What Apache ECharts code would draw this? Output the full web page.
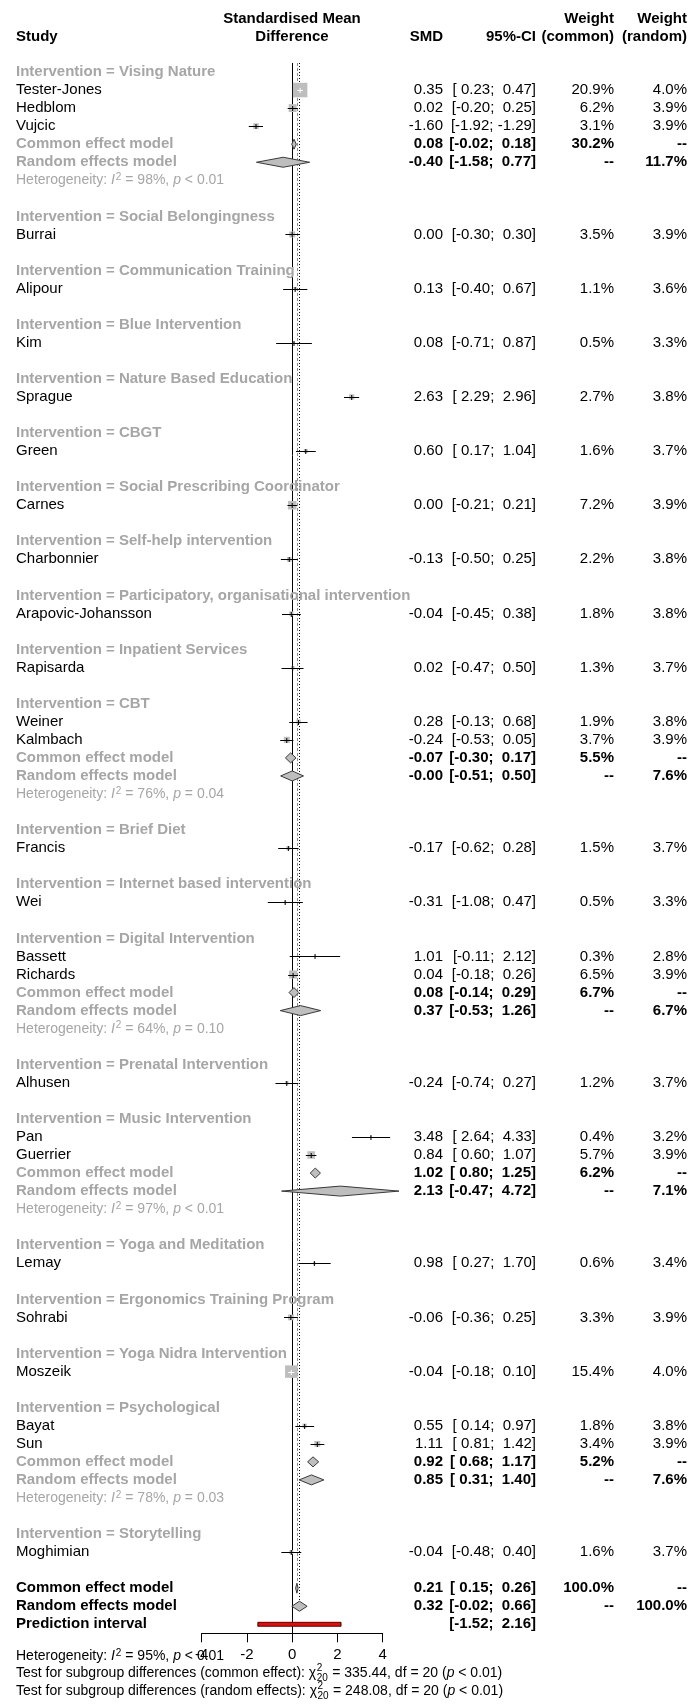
<!DOCTYPE html>
<html>
<head>
<meta charset="utf-8">
<script src="https://cdn.jsdelivr.net/npm/echarts@6/dist/echarts.min.js"></script>
<style>
html, body { margin: 0; padding: 0; background: #ffffff; }
#chart { width: 690px; height: 1707px; }
</style>
</head>
<body>
<div id="chart"></div>
<script>
// ---- Subgroups (intervention types) ----
const groups = [
  'Vising Nature', 'Social Belongingness', 'Communication Training', 'Blue Intervention',
  'Nature Based Education', 'CBGT', 'Social Prescribing Coordinator', 'Self-help intervention',
  'Participatory, organisational intervention', 'Inpatient Services', 'CBT', 'Brief Diet',
  'Internet based intervention', 'Digital Intervention', 'Prenatal Intervention', 'Music Intervention',
  'Yoga and Meditation', 'Ergonomics Training Program', 'Yoga Nidra Intervention', 'Psychological',
  'Storytelling'
];

// ---- Individual studies ----
const studyNames = [
  'Tester-Jones', 'Hedblom', 'Vujcic', 'Burrai', 'Alipour', 'Kim', 'Sprague', 'Green', 'Carnes',
  'Charbonnier', 'Arapovic-Johansson', 'Rapisarda', 'Weiner', 'Kalmbach', 'Francis', 'Wei',
  'Bassett', 'Richards', 'Alhusen', 'Pan', 'Guerrier', 'Lemay', 'Sohrabi', 'Moszeik', 'Bayat',
  'Sun', 'Moghimian'
];
const studyGroup = [0, 0, 0, 1, 2, 3, 4, 5, 6, 7, 8, 9, 10, 10, 11, 12, 13, 13, 14, 15, 15, 16, 17, 18, 19, 19, 20];
const smd    = [0.35, 0.02, -1.60, 0.00, 0.13, 0.08, 2.63, 0.60, 0.00, -0.13, -0.04, 0.02, 0.28, -0.24, -0.17, -0.31, 1.01, 0.04, -0.24, 3.48, 0.84, 0.98, -0.06, -0.04, 0.55, 1.11, -0.04];
const ciLow  = [0.23, -0.20, -1.92, -0.30, -0.40, -0.71, 2.29, 0.17, -0.21, -0.50, -0.45, -0.47, -0.13, -0.53, -0.62, -1.08, -0.11, -0.18, -0.74, 2.64, 0.60, 0.27, -0.36, -0.18, 0.14, 0.81, -0.48];
const ciHigh = [0.47, 0.25, -1.29, 0.30, 0.67, 0.87, 2.96, 1.04, 0.21, 0.25, 0.38, 0.50, 0.68, 0.05, 0.28, 0.47, 2.12, 0.26, 0.27, 4.33, 1.07, 1.70, 0.25, 0.10, 0.97, 1.42, 0.40];
const wCommon = [20.9, 6.2, 3.1, 3.5, 1.1, 0.5, 2.7, 1.6, 7.2, 2.2, 1.8, 1.3, 1.9, 3.7, 1.5, 0.5, 0.3, 6.5, 1.2, 0.4, 5.7, 0.6, 3.3, 15.4, 1.8, 3.4, 1.6];
const wRandom = [4.0, 3.9, 3.9, 3.9, 3.6, 3.3, 3.8, 3.7, 3.9, 3.8, 3.8, 3.7, 3.8, 3.9, 3.7, 3.3, 2.8, 3.9, 3.7, 3.2, 3.9, 3.4, 3.9, 4.0, 3.8, 3.9, 3.7];

// ---- Pooled estimates within subgroups having more than one study ----
const subGroups     = [0, 10, 13, 15, 19];
const subCommonEst  = [0.08, -0.07, 0.08, 1.02, 0.92];
const subCommonLow  = [-0.02, -0.30, -0.14, 0.80, 0.68];
const subCommonHigh = [0.18, 0.17, 0.29, 1.25, 1.17];
const subCommonW    = [30.2, 5.5, 6.7, 6.2, 5.2];
const subRandomEst  = [-0.40, -0.00, 0.37, 2.13, 0.85];
const subRandomLow  = [-1.58, -0.51, -0.53, -0.47, 0.31];
const subRandomHigh = [0.77, 0.50, 1.26, 4.72, 1.40];
const subRandomW    = [11.7, 7.6, 6.7, 7.1, 7.6];
const subI2 = [98, 76, 64, 97, 78];
const subP  = ['< 0.01', '= 0.04', '= 0.10', '< 0.01', '= 0.03'];

// ---- Overall results ----
const overallCommon = [0.21, 0.15, 0.26];
const overallRandom = [0.32, -0.02, 0.66];
const predictionInterval = [-1.52, 2.16];
const overallI2 = 95;
const overallP = '< 0.01';
const testLabels = ['common effect', 'random effects'];
const testChi2 = [335.44, 248.08];
const testDf = [20, 20];
const testP = ['< 0.01', '< 0.01'];

// ---- Axis ----
const xTickValues = [-4, -2, 0, 2, 4];

// ---------------------------------------------------------------
const FONT = '"Liberation Sans", Arial, Helvetica, sans-serif';
const GRAY = '#a6a6a6';
const COL = { name: 16, smd: 443, ci: 536, wc: 614, wr: 687 };

function f2(v) {
  const neg = v < 0 || Object.is(v, -0);
  return (neg ? '-' : '') + Math.abs(v).toFixed(2);
}
function padCI(v) {
  const s = f2(v);
  return s[0] === '-' ? s : ' ' + s;
}
function ci(lo, hi) { return '[' + padCI(lo) + '; ' + padCI(hi) + ']'; }
function pct(w) { return w == null ? '--' : w.toFixed(1) + '%'; }

// Row layout: one row per line of the table
const layout = [];
const studyRow = [];
const subRows = [];
let row = 1;
groups.forEach((g, gi) => {
  layout.push({ row: row++, kind: 'title', text: 'Intervention = ' + g });
  studyGroup.forEach((sg, si) => {
    if (sg === gi) { studyRow[si] = row; layout.push({ row: row++, kind: 'study', i: si }); }
  });
  const k = subGroups.indexOf(gi);
  if (k >= 0) {
    subRows[k] = row;
    layout.push({ row: row++, kind: 'subCommon', k });
    layout.push({ row: row++, kind: 'subRandom', k });
    layout.push({ row: row++, kind: 'subHet', k });
  }
  row++;
});
const overallRow = row;
layout.push({ row: overallRow, kind: 'allCommon' });
layout.push({ row: overallRow + 1, kind: 'allRandom' });
layout.push({ row: overallRow + 2, kind: 'pred' });

const Y_MAX = overallRow + 2.5;

function tx(text, x, y, o) {
  o = o || {};
  const style = {
    text: text,
    fill: o.fill || '#000',
    fontSize: o.size || 15,
    fontWeight: o.bold ? 'bold' : 'normal',
    fontStyle: o.italic ? 'italic' : 'normal',
    fontFamily: FONT,
    align: o.align || 'left',
    verticalAlign: o.va || 'middle'
  };
  if (o.rich) style.rich = o.rich;
  return { type: 'text', x: x, y: y, silent: true, style: style };
}

function hetRich(color) {
  return {
    n: { fontSize: 14, fill: color, fontFamily: FONT },
    i: { fontSize: 14, fill: color, fontFamily: FONT, fontStyle: 'italic' },
    s: { fontSize: 10, fill: color, fontFamily: FONT, verticalAlign: 'top', padding: [0, 0, 6, 1] }
  };
}
function hetText(i2, p) {
  return '{n|Heterogeneity: }{i|I}{s|2}{n| = ' + i2 + '%, }{i|p}{n| ' + p + '}';
}

function renderTable(params, api) {
  const L = layout[params.dataIndex];
  const y = api.coord([0, L.row])[1];
  const c = [];
  if (L.kind === 'title') {
    c.push(tx(L.text, COL.name, y, { bold: true, fill: GRAY }));
  } else if (L.kind === 'study') {
    const i = L.i;
    c.push(tx(studyNames[i], COL.name, y));
    c.push(tx(f2(smd[i]), COL.smd, y, { align: 'right' }));
    c.push(tx(ci(ciLow[i], ciHigh[i]), COL.ci, y, { align: 'right' }));
    c.push(tx(pct(wCommon[i]), COL.wc, y, { align: 'right' }));
    c.push(tx(pct(wRandom[i]), COL.wr, y, { align: 'right' }));
  } else if (L.kind === 'subCommon') {
    const k = L.k;
    c.push(tx('Common effect model', COL.name, y, { bold: true, fill: GRAY }));
    c.push(tx(f2(subCommonEst[k]), COL.smd, y, { align: 'right', bold: true }));
    c.push(tx(ci(subCommonLow[k], subCommonHigh[k]), COL.ci, y, { align: 'right', bold: true }));
    c.push(tx(pct(subCommonW[k]), COL.wc, y, { align: 'right', bold: true }));
    c.push(tx('--', COL.wr, y, { align: 'right', bold: true }));
  } else if (L.kind === 'subRandom') {
    const k = L.k;
    c.push(tx('Random effects model', COL.name, y, { bold: true, fill: GRAY }));
    c.push(tx(f2(subRandomEst[k]), COL.smd, y, { align: 'right', bold: true }));
    c.push(tx(ci(subRandomLow[k], subRandomHigh[k]), COL.ci, y, { align: 'right', bold: true }));
    c.push(tx('--', COL.wc, y, { align: 'right', bold: true }));
    c.push(tx(pct(subRandomW[k]), COL.wr, y, { align: 'right', bold: true }));
  } else if (L.kind === 'subHet') {
    c.push(tx(hetText(subI2[L.k], subP[L.k]), COL.name, y, { size: 14, fill: GRAY, rich: hetRich(GRAY) }));
  } else if (L.kind === 'allCommon') {
    c.push(tx('Common effect model', COL.name, y, { bold: true }));
    c.push(tx(f2(overallCommon[0]), COL.smd, y, { align: 'right', bold: true }));
    c.push(tx(ci(overallCommon[1], overallCommon[2]), COL.ci, y, { align: 'right', bold: true }));
    c.push(tx('100.0%', COL.wc, y, { align: 'right', bold: true }));
    c.push(tx('--', COL.wr, y, { align: 'right', bold: true }));
  } else if (L.kind === 'allRandom') {
    c.push(tx('Random effects model', COL.name, y, { bold: true }));
    c.push(tx(f2(overallRandom[0]), COL.smd, y, { align: 'right', bold: true }));
    c.push(tx(ci(overallRandom[1], overallRandom[2]), COL.ci, y, { align: 'right', bold: true }));
    c.push(tx('--', COL.wc, y, { align: 'right', bold: true }));
    c.push(tx('100.0%', COL.wr, y, { align: 'right', bold: true }));
  } else if (L.kind === 'pred') {
    c.push(tx('Prediction interval', COL.name, y, { bold: true }));
    c.push(tx(ci(predictionInterval[0], predictionInterval[1]), COL.ci, y, { align: 'right', bold: true }));
  }
  return { type: 'group', children: c };
}

// Study squares (size from common-effect weight) with CI whiskers
const maxW = Math.max.apply(null, wCommon);
const studyData = studyNames.map((n, i) => [smd[i], studyRow[i], ciLow[i], ciHigh[i], wCommon[i]]);
function renderStudy(params, api) {
  const r = api.value(1);
  const p = api.coord([api.value(0), r]);
  const lo = api.coord([api.value(2), r]);
  const hi = api.coord([api.value(3), r]);
  const s = 14.5 * Math.sqrt(api.value(4) / maxW);
  const inside = lo[0] >= p[0] - s / 2 && hi[0] <= p[0] + s / 2;
  const lc = inside ? '#ffffff' : '#000000';
  const yy = Math.round(p[1]) + 0.5;
  return {
    type: 'group',
    children: [
      { type: 'rect', shape: { x: p[0] - s / 2, y: p[1] - s / 2, width: s, height: s }, style: { fill: '#bebebe' } },
      { type: 'line', shape: { x1: lo[0], y1: yy, x2: hi[0], y2: yy }, style: { stroke: lc, lineWidth: 1 } },
      { type: 'line', shape: { x1: p[0], y1: yy - 2.5, x2: p[0], y2: yy + 2.5 }, style: { stroke: lc, lineWidth: 1 } }
    ]
  };
}

// Pooled estimates as diamonds
const diamondData = [];
subGroups.forEach((g, k) => {
  diamondData.push([subCommonEst[k], subRows[k], subCommonLow[k], subCommonHigh[k]]);
  diamondData.push([subRandomEst[k], subRows[k] + 1, subRandomLow[k], subRandomHigh[k]]);
});
diamondData.push([overallCommon[0], overallRow, overallCommon[1], overallCommon[2]]);
diamondData.push([overallRandom[0], overallRow + 1, overallRandom[1], overallRandom[2]]);
function renderDiamond(params, api) {
  const r = api.value(1);
  const p = api.coord([api.value(0), r]);
  const lo = api.coord([api.value(2), r]);
  const hi = api.coord([api.value(3), r]);
  const h = 5;
  return {
    type: 'polygon',
    shape: { points: [[lo[0], p[1]], [p[0], p[1] - h], [hi[0], p[1]], [p[0], p[1] + h]] },
    style: { fill: '#bebebe', stroke: '#3a3a3a', lineWidth: 1 }
  };
}

// Prediction interval bar
function renderPred(params, api) {
  const r = api.value(1);
  const lo = api.coord([api.value(0), r]);
  const hi = api.coord([api.value(2), r]);
  return {
    type: 'rect',
    shape: { x: lo[0], y: lo[1] - 2, width: hi[0] - lo[0], height: 4 },
    style: { fill: '#ff0000', stroke: '#000000', lineWidth: 0.8 }
  };
}

// Reference lines: no effect, common effect, random effects
const refLines = [
  [0, 0.5, Y_MAX, 0],
  [overallCommon[0], 0.5, overallRow - 0.3, 1],
  [overallRandom[0], 0.5, overallRow + 0.7, 2]
];
function renderRef(params, api) {
  const a = api.coord([api.value(0), api.value(1)]);
  const b = api.coord([api.value(0), api.value(2)]);
  const kind = api.value(3);
  const x = Math.round(a[0]) + 0.5;
  const style = kind === 0
    ? { stroke: '#000', lineWidth: 1 }
    : kind === 1
      ? { stroke: '#8a8a8a', lineWidth: 1, lineDash: [3, 2] }
      : { stroke: '#000', lineWidth: 1, lineDash: [1, 2] };
  return { type: 'line', shape: { x1: x, y1: a[1], x2: x, y2: b[1] }, style: style };
}

// ---- Header and footer text ----
const meas = document.createElement('canvas').getContext('2d');
function textW(t, size, italic) {
  meas.font = (italic ? 'italic ' : '') + size + 'px ' + FONT;
  return meas.measureText(t).width;
}
function gtext(t, x, y, o) {
  o = o || {};
  return {
    type: 'text', x: x, y: y, silent: true,
    style: {
      text: t, fill: o.fill || '#000', fontSize: o.size || 15, fontFamily: FONT,
      fontWeight: o.bold ? 'bold' : 'normal', fontStyle: o.italic ? 'italic' : 'normal',
      align: o.align || 'left', verticalAlign: 'middle', rich: o.rich
    }
  };
}
const FOOT_Y = 1656;
const graphics = [
  gtext('Standardised Mean', 292, 19, { bold: true, align: 'center' }),
  gtext('Difference', 292, 36.5, { bold: true, align: 'center' }),
  gtext('Study', COL.name, 36.5, { bold: true }),
  gtext('SMD', COL.smd, 36.5, { bold: true, align: 'right' }),
  gtext('95%-CI', COL.ci, 36.5, { bold: true, align: 'right' }),
  gtext('Weight', COL.wc, 19, { bold: true, align: 'right' }),
  gtext('(common)', COL.wc, 36.5, { bold: true, align: 'right' }),
  gtext('Weight', COL.wr, 19, { bold: true, align: 'right' }),
  gtext('(random)', COL.wr, 36.5, { bold: true, align: 'right' }),
  gtext(hetText(overallI2, overallP), COL.name, FOOT_Y, { size: 14, rich: hetRich('#000') })
];
testLabels.forEach((lab, j) => {
  const y = FOOT_Y + 17.5 + j * 17.5;
  let x = COL.name;
  const pre = 'Test for subgroup differences (' + lab + '): \u03c7';
  graphics.push(gtext(pre, x, y, { size: 14 }));
  x += textW(pre, 14);
  const df = String(testDf[j]);
  graphics.push(gtext('2', x + 0.5, y - 5, { size: 10 }));
  graphics.push(gtext(df, x + 0.5, y + 5, { size: 10 }));
  x += Math.max(textW('2', 10), textW(df, 10)) + 1;
  const mid = ' = ' + testChi2[j].toFixed(2) + ', df = ' + df + ' (';
  graphics.push(gtext(mid, x, y, { size: 14 }));
  x += textW(mid, 14);
  graphics.push(gtext('p', x, y, { size: 14, italic: true }));
  x += textW('p', 14, true);
  graphics.push(gtext(' ' + testP[j] + ')', x, y, { size: 14 }));
});

const chart = echarts.init(document.getElementById('chart'), null, { renderer: 'canvas' });
chart.setOption({
  animation: false,
  backgroundColor: '#ffffff',
  grid: { left: 201.7, right: 690 - 382.7, top: 53.95, height: 18.05 * Y_MAX },
  xAxis: {
    type: 'value', min: xTickValues[0], max: xTickValues[xTickValues.length - 1],
    interval: xTickValues[1] - xTickValues[0],
    axisLine: { show: true, onZero: false, lineStyle: { color: '#000', width: 1 } },
    axisTick: { show: true, inside: false, length: 9, lineStyle: { color: '#000', width: 1 } },
    axisLabel: { color: '#000', fontSize: 15, fontFamily: FONT, margin: 14 },
    splitLine: { show: false }
  },
  yAxis: { type: 'value', min: 0, max: Y_MAX, inverse: true, show: false },
  graphic: { elements: graphics },
  series: [
    { type: 'custom', name: 'reference', renderItem: renderRef, data: refLines, clip: false, silent: true, z: 1 },
    { type: 'custom', name: 'prediction', renderItem: renderPred,
      data: [[predictionInterval[0], overallRow + 2, predictionInterval[1]]], clip: false, silent: true, z: 2 },
    { type: 'custom', name: 'studies', renderItem: renderStudy, data: studyData, clip: false, silent: true, z: 3 },
    { type: 'custom', name: 'pooled', renderItem: renderDiamond, data: diamondData, clip: false, silent: true, z: 4 },
    { type: 'custom', name: 'table', renderItem: renderTable,
      data: layout.map(L => [0, L.row]), clip: false, silent: true, z: 5 }
  ]
});
</script>
</body>
</html>
